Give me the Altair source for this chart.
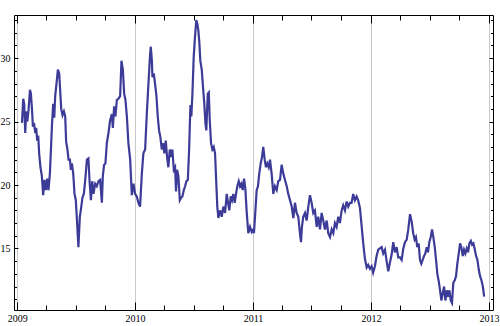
import altair as alt
import pandas as pd

# decimal-year offsets from 2009-01-01 (time of each reading)
year_offsets = [
    0.040, 0.051, 0.059, 0.068, 0.076, 0.085, 0.096, 0.108, 0.116, 0.125,
    0.133, 0.142, 0.153, 0.161, 0.169, 0.178, 0.186, 0.197, 0.209, 0.220,
    0.231, 0.243, 0.254, 0.265, 0.277, 0.286, 0.294, 0.305, 0.314, 0.322,
    0.333, 0.345, 0.356, 0.364, 0.373, 0.384, 0.396, 0.407, 0.415, 0.426,
    0.435, 0.447, 0.455, 0.464, 0.475, 0.486, 0.497, 0.508, 0.519, 0.531,
    0.542, 0.553, 0.565, 0.576,
    0.591, 0.604, 0.613, 0.625, 0.636, 0.647, 0.661, 0.675, 0.689, 0.703,
    0.718, 0.726, 0.737, 0.748, 0.760, 0.774, 0.788, 0.803, 0.811, 0.822,
    0.833, 0.845, 0.858, 0.873, 0.884, 0.896, 0.907, 0.918, 0.930, 0.943,
    0.958, 0.972, 0.986, 1.000, 1.014, 1.028, 1.042, 1.057, 1.070, 1.085,
    1.099, 1.113, 1.127, 1.133, 1.142, 1.147, 1.158, 1.169, 1.181, 1.192,
    1.203, 1.214, 1.226, 1.237, 1.248, 1.260, 1.271, 1.282, 1.294, 1.305,
    1.316, 1.328, 1.339, 1.347, 1.356, 1.367, 1.379, 1.390, 1.401, 1.413,
    1.424, 1.435, 1.447, 1.458, 1.469, 1.477, 1.486, 1.497, 1.508, 1.519,
    1.528, 1.536, 1.545, 1.553, 1.565, 1.576, 1.587, 1.596, 1.604, 1.616,
    1.625, 1.633, 1.644, 1.655, 1.667, 1.678, 1.686, 1.697, 1.706, 1.720,
    1.735, 1.748, 1.763, 1.777, 1.788, 1.799, 1.811, 1.822, 1.833, 1.845,
    1.856, 1.867, 1.879, 1.890, 1.901, 1.913, 1.924, 1.935, 1.947, 1.960,
    1.975, 1.989, 2.003, 2.008, 2.019, 2.031, 2.042, 2.053, 2.065, 2.076,
    2.087, 2.099, 2.110, 2.121, 2.133, 2.144, 2.158, 2.172, 2.186, 2.201,
    2.214, 2.229, 2.243, 2.257, 2.271, 2.286, 2.299, 2.314, 2.328, 2.342,
    2.356, 2.370, 2.384, 2.398, 2.407, 2.415, 2.426, 2.441, 2.455, 2.469,
    2.483, 2.497, 2.511, 2.525, 2.540, 2.553, 2.568, 2.582, 2.596, 2.610,
    2.625, 2.638, 2.653, 2.667, 2.681, 2.695, 2.709, 2.723, 2.737, 2.752,
    2.765, 2.780, 2.794, 2.808, 2.822, 2.836, 2.850, 2.864, 2.879, 2.892,
    2.907, 2.921, 2.935, 2.949, 2.964, 2.977, 2.992, 3.006, 3.019, 3.034,
    3.048, 3.062, 3.076, 3.091, 3.104, 3.119, 3.133, 3.147, 3.161, 3.175,
    3.189, 3.203, 3.218, 3.231, 3.246, 3.260, 3.274, 3.288, 3.303, 3.316,
    3.331, 3.345, 3.358, 3.370, 3.381, 3.392, 3.404, 3.415, 3.426, 3.438,
    3.449, 3.460, 3.472, 3.483, 3.494, 3.506, 3.517, 3.528, 3.540, 3.551,
    3.562, 3.574, 3.585, 3.596, 3.608, 3.619, 3.630, 3.642, 3.653, 3.664,
    3.675, 3.686, 3.697, 3.709, 3.720, 3.731, 3.743, 3.754, 3.765, 3.777,
    3.788, 3.799, 3.811, 3.822, 3.833, 3.845, 3.856, 3.867, 3.879, 3.890,
    3.901, 3.913, 3.924, 3.935, 3.947, 3.958,
]

values = [
    24.9, 26.8, 26.4, 24.1, 25.8, 25.0, 25.9, 27.5, 27.2, 26.0,
    24.6, 24.9, 24.1, 24.5, 23.5, 23.9, 22.5, 21.4, 20.7, 19.2,
    20.4, 19.6, 20.5, 19.6, 20.9, 22.8, 24.6, 26.4, 25.3, 27.0,
    28.0, 29.1, 28.8, 27.5, 26.0, 25.5, 25.8, 25.4, 23.4, 22.8,
    22.0, 22.0, 21.2, 21.7, 20.9, 19.3, 18.8, 17.0, 15.1, 17.5,
    18.2, 19.0, 19.3, 20.3,
    22.0, 22.1, 20.4, 18.8, 20.3, 19.3, 20.1, 19.9, 20.3, 20.4,
    18.6, 20.7, 21.6, 21.7, 23.3, 24.1, 25.1, 25.6, 24.5, 26.2,
    25.4, 26.7, 26.8, 27.0, 29.8, 29.1, 27.2, 26.7, 25.4, 23.3,
    22.0, 19.2, 20.1, 19.3, 19.1, 18.6, 18.3, 20.9, 22.5, 22.8,
    25.6, 28.0, 30.3, 30.9, 29.8, 28.5, 28.8, 28.0, 27.0, 25.4,
    24.3, 23.8, 22.8, 23.3, 22.5, 23.5, 22.2, 21.4, 22.8, 22.2,
    22.8, 21.2, 21.4, 19.5, 21.2, 20.7, 18.8, 19.0, 19.1, 19.6,
    19.9, 20.3, 20.4, 22.8, 26.3, 25.4, 27.2, 30.1, 31.7, 33.0,
    32.7, 32.2, 31.2, 29.8, 29.1, 27.7, 26.4, 24.9, 24.3, 27.2,
    27.3, 25.1, 23.3, 22.8, 23.0, 22.5, 20.7, 18.3, 17.4, 18.0,
    17.5, 18.3, 17.8, 19.3, 18.6, 18.0, 19.1, 18.8, 19.3, 18.6,
    19.3, 19.9, 20.3, 19.9, 20.1, 19.6, 20.5, 19.7, 17.8, 16.2,
    16.7, 16.3, 16.5, 16.2, 17.8, 19.6, 19.9, 20.9, 21.7, 22.2,
    23.0, 22.0, 21.4, 21.7, 21.4, 22.0, 20.9, 19.3, 19.9, 19.6,
    20.3, 20.4, 21.6, 20.9, 20.4, 19.9, 19.3, 18.8, 18.3, 17.4,
    18.6, 17.8, 17.5, 16.2, 15.5, 16.7, 17.5, 17.8, 17.2, 18.3,
    19.2, 18.6, 17.8, 18.0, 16.7, 17.5, 16.5, 17.8, 17.2, 16.5,
    17.2, 16.2, 15.9, 16.5, 16.2, 17.0, 16.7, 17.5, 17.0, 18.0,
    18.4, 18.0, 18.7, 18.3, 18.6, 18.6, 19.3, 18.8, 19.1, 18.8,
    18.2, 16.8, 15.4, 14.2, 13.5, 13.7, 13.4, 13.6, 13.1, 13.6,
    14.4, 14.9, 15.0, 15.1, 14.6, 14.9, 14.0, 13.2, 13.9, 14.5,
    15.5, 14.7, 15.1, 14.3, 14.3, 14.1, 15.0, 15.5, 15.7, 16.5,
    17.7, 17.1, 16.2, 15.7, 15.9, 15.1, 15.4, 14.1, 13.8, 14.1,
    14.4, 14.6, 15.1, 14.7, 15.5, 15.9, 16.5, 15.9, 15.1, 14.1,
    13.0, 12.4, 11.7, 10.9, 11.5, 12.0, 10.9, 11.7, 11.2, 11.7,
    10.9, 10.7, 12.3, 12.5, 12.8, 13.8, 14.6, 15.4, 15.1, 14.4,
    14.9, 14.6, 15.0, 14.7, 15.4, 15.6, 15.3, 15.4, 14.9, 14.4,
    14.1, 13.3, 12.8, 12.5, 12.0, 11.2,
]

assert len(year_offsets) == len(values)

year_ticks = [2009, 2010, 2011, 2012, 2013]
quarter_months = [4, 7, 10]
y_major = [15, 20, 25, 30]
y_minor = [11, 12, 13, 14, 16, 17, 18, 19, 21, 22, 23, 24, 26, 27, 28, 29, 31, 32, 33]


def to_date(off):
    yr = 2009 + int(off // 1)
    start = pd.Timestamp(year=yr, month=1, day=1)
    end = pd.Timestamp(year=yr + 1, month=1, day=1)
    return start + (end - start) * (off - int(off // 1))


df = pd.DataFrame({"date": [to_date(o) for o in year_offsets], "value": values})

W, H = 479, 295
FONT = "Liberation Serif"

xscale = alt.Scale(domain=[alt.DateTime(year=2008, month=12, date=22),
                           alt.DateTime(year=2013, month=1, date=13)], nice=False)
yscale = alt.Scale(domain=[10.15, 33.4], nice=False, zero=False)

year_vals = [alt.DateTime(year=y) for y in year_ticks]
quarter_vals = [alt.DateTime(year=y, month=m) for y in year_ticks[:-1] for m in quarter_months]

common = dict(title=None, grid=False, labels=False, domain=False, tickColor="black", tickWidth=1)


def tick_axis(orient, offset, vals, size, domain=False):
    d = dict(common)
    d["domain"] = domain
    if domain:
        d["domainColor"] = "black"
        d["domainWidth"] = 1
    return alt.Axis(orient=orient, offset=offset, values=vals, ticks=True, tickSize=size, **d)


base = alt.Chart(df)

main = base.mark_line(color="#3c3c98", strokeWidth=2.2, clip=True).encode(
    x=alt.X("date:T", scale=xscale, axis=alt.Axis(
        orient="bottom", values=year_vals, format="%Y", ticks=False, tickSize=0,
        domain=True, domainColor="black", domainWidth=1, grid=True,
        gridColor="#c8c8c8", gridWidth=1, labelFont=FONT, labelFontSize=10,
        labelColor="black", labelPadding=3, labelFlush=False, labelOverlap=False,
        title=None)),
    y=alt.Y("value:Q", scale=yscale, axis=alt.Axis(
        orient="left", values=y_major, ticks=False, tickSize=0, domain=True,
        domainColor="black", domainWidth=1, grid=False, labelFont=FONT,
        labelFontSize=10, labelColor="black", labelPadding=4, title=None)),
)


def ghost(xa, ya):
    return base.mark_line(strokeOpacity=0).encode(
        x=alt.X("date:T", scale=xscale, axis=xa),
        y=alt.Y("value:Q", scale=yscale, axis=ya),
    )


layers = [
    main,
    ghost(tick_axis("top", -H, year_vals, 8), tick_axis("right", -W, y_major, 4)),
    ghost(tick_axis("top", -H, quarter_vals, 5), tick_axis("right", -W, y_minor, 2.5)),
    ghost(tick_axis("bottom", -H, year_vals, 8, domain=True), tick_axis("left", -W, y_major, 4, domain=True)),
    ghost(tick_axis("bottom", -H, quarter_vals, 5), tick_axis("left", -W, y_minor, 2.5)),
]

chart = alt.layer(*layers).resolve_axis(x="independent", y="independent").properties(
    width=W, height=H,
    autosize=alt.AutoSizeParams(type="none"),
    padding={"left": 14, "top": 15, "right": 7, "bottom": 16},
    background="white",
).configure_view(stroke=None)

chart.save("out.html", embed_options={"renderer": "svg", "actions": False})
